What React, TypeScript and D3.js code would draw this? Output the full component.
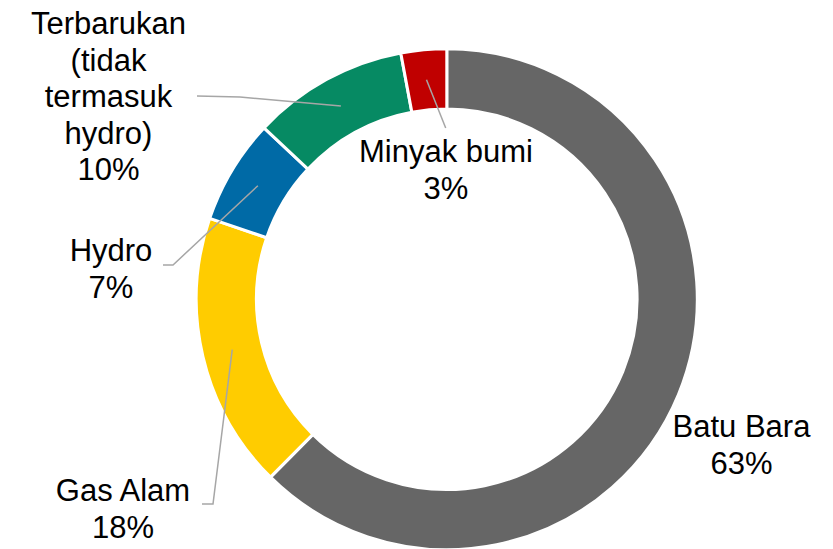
import React from "react";
import * as d3 from "d3";

// ---- Data ----
const categories = ["Batu Bara", "Gas Alam", "Hydro", "Terbarukan (tidak termasuk hydro)", "Minyak bumi"];
const shares = [62.4, 17.8, 6.75, 10.07, 2.94];
const pctLabels = ["63%", "18%", "7%", "10%", "3%"];
const labelLines = [
  ["Batu Bara", "63%"],
  ["Gas Alam", "18%"],
  ["Hydro", "7%"],
  ["Terbarukan", "(tidak", "termasuk", "hydro)", "10%"],
  ["Minyak bumi", "3%"],
];
const colors = ["#666666", "#FFCC00", "#006AA6", "#068A63", "#C00000"];

// ---- Layout ----
const W = 833;
const H = 549;
const cx = 446.8;
const cy = 299.2;
const outerR = 250.5;
const innerR = 190.3;
const fontSize = 31;
const lineH = 36.5;
// label anchor (x center, first baseline y)
const labelPos = [
  { x: 741.5, y: 437 },
  { x: 123, y: 501 },
  { x: 111, y: 261 },
  { x: 108.5, y: 34 },
  { x: 446, y: 162 },
];
// leader elbow points (from label side), null = no leader
const leaderPts: ([number, number][] | null)[] = [
  null,
  [[202, 504], [213, 504]],
  [[163, 265], [173, 265]],
  [[197, 96], [240, 97]],
  [[445.7, 128]],
];

export default function App() {
  const pie = d3.pie<number>().sort(null).value((d) => d).startAngle(0).endAngle(2 * Math.PI);
  const arcs = pie(shares);
  const arc = d3.arc<d3.PieArcDatum<number>>().innerRadius(innerR).outerRadius(outerR);
  const midArc = d3
    .arc<d3.PieArcDatum<number>>()
    .innerRadius((innerR + outerR) / 2)
    .outerRadius((innerR + outerR) / 2);
  const line = d3.line();

  return (
    <svg
      width={W}
      height={H}
      style={{ position: "absolute", left: 0, top: 0, background: "#fff" }}
      fontFamily="'Liberation Sans', Arial, sans-serif"
    >
      <g transform={`translate(${cx},${cy})`}>
        {arcs.map((a, i) => (
          <path key={categories[i]} d={arc(a) || ""} fill={colors[i]} stroke="#fff" strokeWidth={3} />
        ))}
      </g>
      {arcs.map((a, i) => {
        const pts = leaderPts[i];
        if (!pts) return null;
        const c = midArc.centroid(a);
        const all: [number, number][] = [...pts, [c[0] + cx, c[1] + cy]];
        return (
          <path key={"l" + i} d={line(all) || ""} fill="none" stroke="#A6A6A6" strokeWidth={1.5} />
        );
      })}
      {labelLines.map((lines, i) => (
        <text key={"t" + i} x={labelPos[i].x} y={labelPos[i].y} fontSize={fontSize} textAnchor="middle" fill="#000">
          {lines.map((ln, j) => (
            <tspan key={j} x={labelPos[i].x} y={labelPos[i].y + j * lineH}>
              {j === lines.length - 1 ? pctLabels[i] : ln}
            </tspan>
          ))}
        </text>
      ))}
    </svg>
  );
}
